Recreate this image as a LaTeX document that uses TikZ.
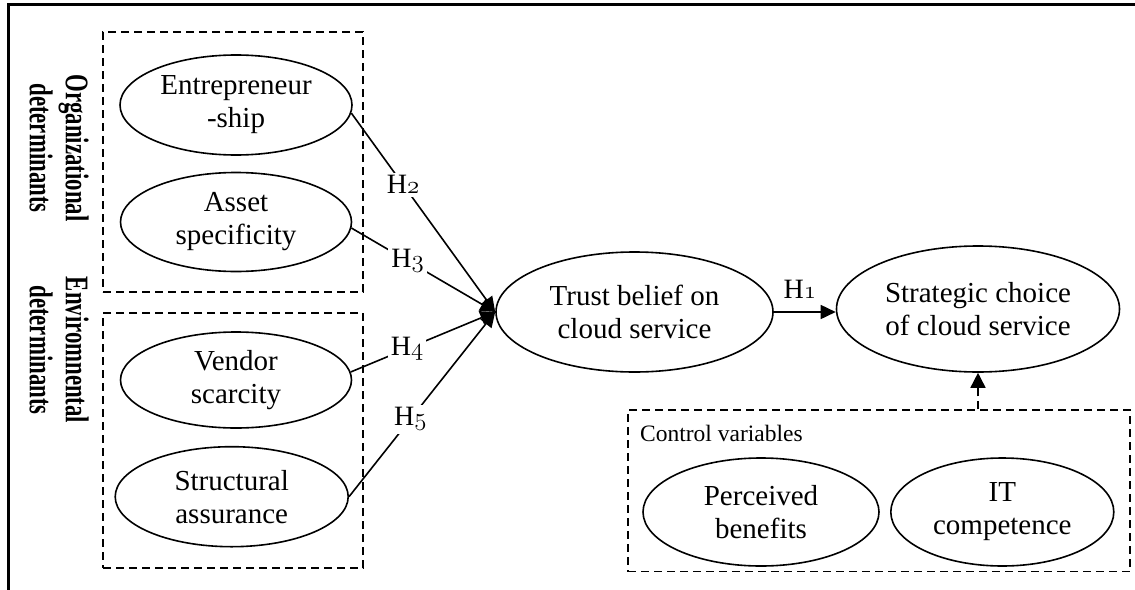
\documentclass[tikz,border=0pt]{standalone}
\usepackage{fontspec}
\usetikzlibrary{shapes.geometric,arrows.meta}
\newfontfamily\tnr{Liberation Serif}
\newcommand\osn[1]{{\usefont{OML}{cmm}{m}{it}#1}}
\tikzset{
  ell/.style={ellipse, draw, line width=1.6pt, inner sep=0pt, align=center,
              font=\tnr\fontsize{29}{33}\selectfont},
  dbox/.style={draw, dashed, dash pattern=on 8pt off 5pt, line width=1.4pt, inner sep=0pt},
  conn/.style={line width=1.6pt, -{Triangle[length=15pt,width=14pt]}},
  dconn/.style={line width=1.6pt, dash pattern=on 8pt off 5pt, -{Triangle[length=15pt,width=15pt]}},
  hlab/.style={fill=white, inner sep=3pt, font=\tnr\fontsize{28}{30}\selectfont},
  sidelab/.style={rotate=-90, font=\tnr\bfseries\fontsize{33}{36}\selectfont, inner sep=0pt},
  frame/.style={line width=3pt}
}
\begin{document}
\begin{tikzpicture}[x=1pt,y=-1pt]
\useasboundingbox (0,0) rectangle (1135,589);
% outer frame (top and left edges)
\coordinate (ftl) at (8,4.7);
\coordinate (ftr) at (1136,4.7);
\coordinate (fbl) at (8,590);
\draw[frame] (ftr) -- (ftl) -- (fbl);

% dashed group boxes
\node[dbox, minimum width=260pt, minimum height=260pt] (orgbox) at (233,162) {};
\node[dbox, minimum width=260pt, minimum height=255pt] (envbox) at (233,440.5) {};
\node[dbox, minimum width=502pt, minimum height=161.7pt] (ctrl) at (879,490.85) {};

% side labels
\node[sidelab] (orglab) at (55,148) {\scalebox{0.69}[1]{\begin{tabular}{@{}c@{}}Organizational\\determinants\end{tabular}}};
\node[sidelab] (envlab) at (55,350) {\scalebox{0.69}[1]{\begin{tabular}{@{}c@{}}Enviromnental\\determinants\end{tabular}}};

% ellipses
\node[ell, minimum width=232pt, minimum height=100pt] (ent) at (236,105) {Entrepreneur\\-ship};
\node[ell, minimum width=231pt, minimum height=99pt] (asset) at (236,222) {Asset\\specificity};
\node[ell, minimum width=231pt, minimum height=96pt] (vendor) at (236,380) {Vendor\\scarcity};
\node[ell, minimum width=233pt, minimum height=100pt] (struct) at (231.7,496.7) {Structural\\assurance};
\node[ell, minimum width=277pt, minimum height=120pt] (trust) at (634.5,312) {Trust belief on\\cloud service};
\node[ell, minimum width=283pt, minimum height=126pt] (strat) at (978,309) {Strategic choice\\of cloud service};
\node[ell, minimum width=236pt, minimum height=108pt] (perc) at (761,512) {Perceived\\benefits};
\node[ell, minimum width=223pt, minimum height=108pt] (itc) at (1002.3,512) {IT\\competence};

% control variables label
\node[anchor=west, inner sep=0pt, font=\tnr\fontsize{23.5}{27}\selectfont] (ctrllab) at (640,433) {Control variables};

% connectors
\draw[conn] (ent.-4) -- node[hlab, pos=0.36] (h2) {H\osn{2}} (trust.west);
\draw[conn] (asset.-3) -- node[hlab, pos=0.39] (h3) {H\osn{3}} (trust.west);
\draw[conn] (vendor.4) -- node[hlab, pos=0.39] (h4) {H\osn{4}} (trust.west);
\draw[conn] (struct.east) -- node[hlab, pos=0.42] (h5) {H\osn{5}} (trust.west);
\draw[conn] (trust.east) -- node[pos=0.42, above=13pt, inner sep=0pt, font=\tnr\fontsize{28}{30}\selectfont] (h1) {H\osn{1}} (trust.east -| strat.west);
\draw[dconn] (ctrl.north -| strat.south) -- (strat.south);
\end{tikzpicture}
\end{document}
